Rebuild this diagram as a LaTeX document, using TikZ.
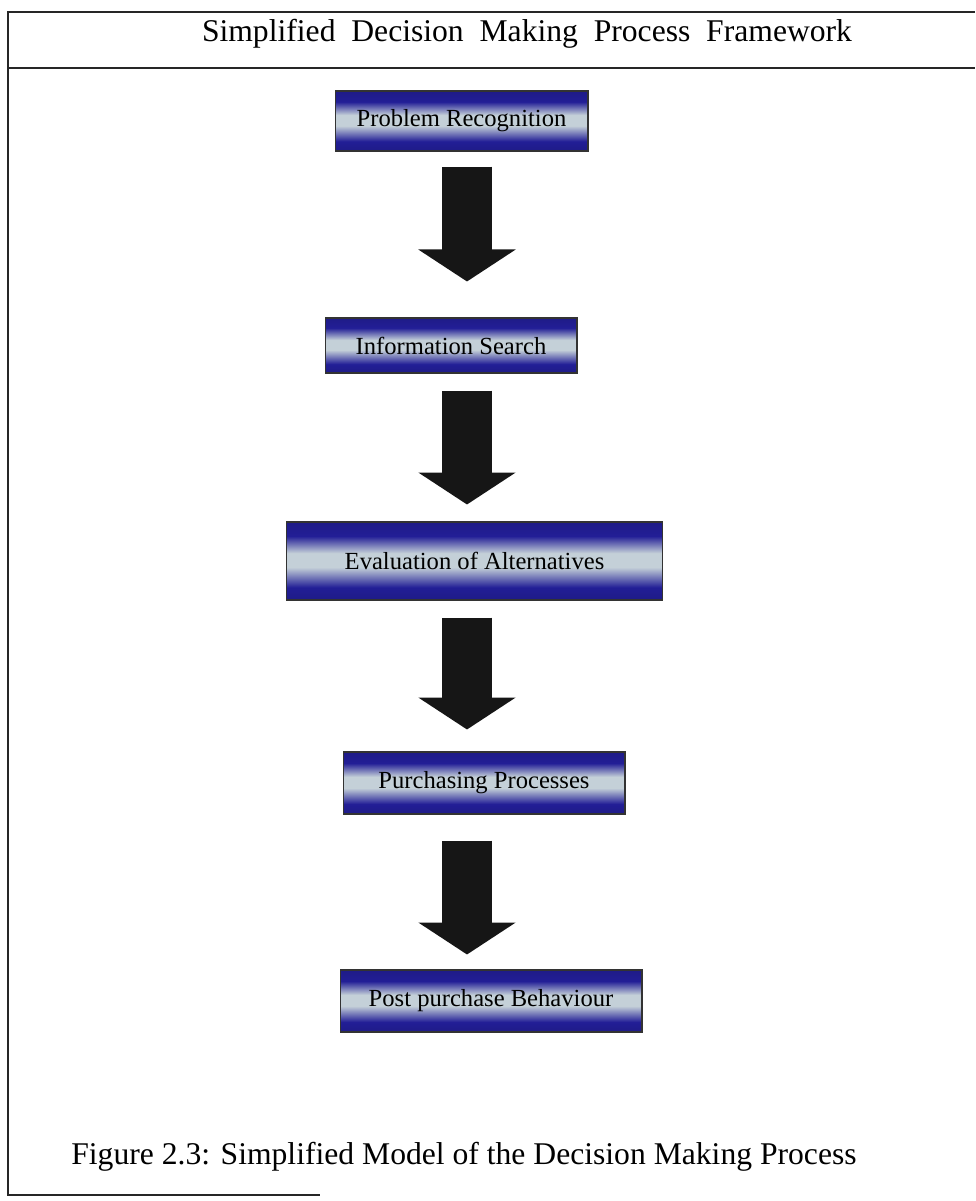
\documentclass[tikz,border=0pt]{standalone}
\usepackage{fontspec}
\setmainfont{Liberation Serif}
\usetikzlibrary{arrows.meta}
\definecolor{boxblue}{RGB}{34,30,150}
\definecolor{boxmid}{RGB}{196,208,216}
\definecolor{arrowblack}{RGB}{22,22,22}
\pgfdeclareverticalshading{stagebar}{100bp}{color(0bp)=(boxblue); color(25bp)=(boxblue!90!black); color(33bp)=(boxblue);
  color(46bp)=(boxmid); color(55bp)=(boxmid); color(66bp)=(boxblue); color(75bp)=(boxblue!90!black); color(100bp)=(boxblue)}
\tikzset{
  stage/.style={draw=black!80, line width=0.6pt, shading=stagebar,
    inner sep=0pt, font=\fontsize{14}{16}\selectfont},
  blockarrow/.style={draw=arrowblack, line width=1cm, -{Triangle[length=0.64cm,width=1.92cm,fill=arrowblack]}},
  frame/.style={line width=1.1pt, black!85}
}
\begin{document}
\begin{tikzpicture}[x=0.02cm, y=-0.02cm]
\useasboundingbox (0,0) rectangle (975,1201);
% outer frame
\draw[frame] (975,12) -- (8,12) -- (8,1195) -- (320,1195);
\draw[frame] (8,68) -- (975,68);
\node (title) at (527,34) {\fontsize{18}{21}\selectfont Simplified\ \ Decision\ \ Making\ \ Process\ \ Framework};
% stages
\node[stage, minimum width=5.06cm, minimum height=1.2cm] (pr) at (461.5,121) {Problem Recognition};
\node[stage, minimum width=5.04cm, minimum height=1.1cm] (is) at (451,345.5) {Information Search};
\node[stage, minimum width=7.54cm, minimum height=1.56cm] (ev) at (474.5,561) {Evaluation of Alternatives};
\node[stage, minimum width=5.64cm, minimum height=1.24cm] (pp) at (484,783) {Purchasing Processes};
\node[stage, minimum width=6.04cm, minimum height=1.24cm] (pb) at (491,1001) {Post purchase Behaviour};
\coordinate (spine) at (467,0);
% arrows
\foreach \from/\to/\s/\e in {pr/is/0.30/0.72, is/ev/0.34/0.34, ev/pp/0.34/0.44, pp/pb/0.52/0.30}
  \draw[blockarrow] ([yshift=-\s cm]\from.south -| spine) -- ([yshift=\e cm]\to.north -| spine);
\node (caption) at (464,1157) {\fontsize{18}{21}\selectfont Figure 2.3: Simplified Model of the Decision Making Process};
\end{tikzpicture}
\end{document}
